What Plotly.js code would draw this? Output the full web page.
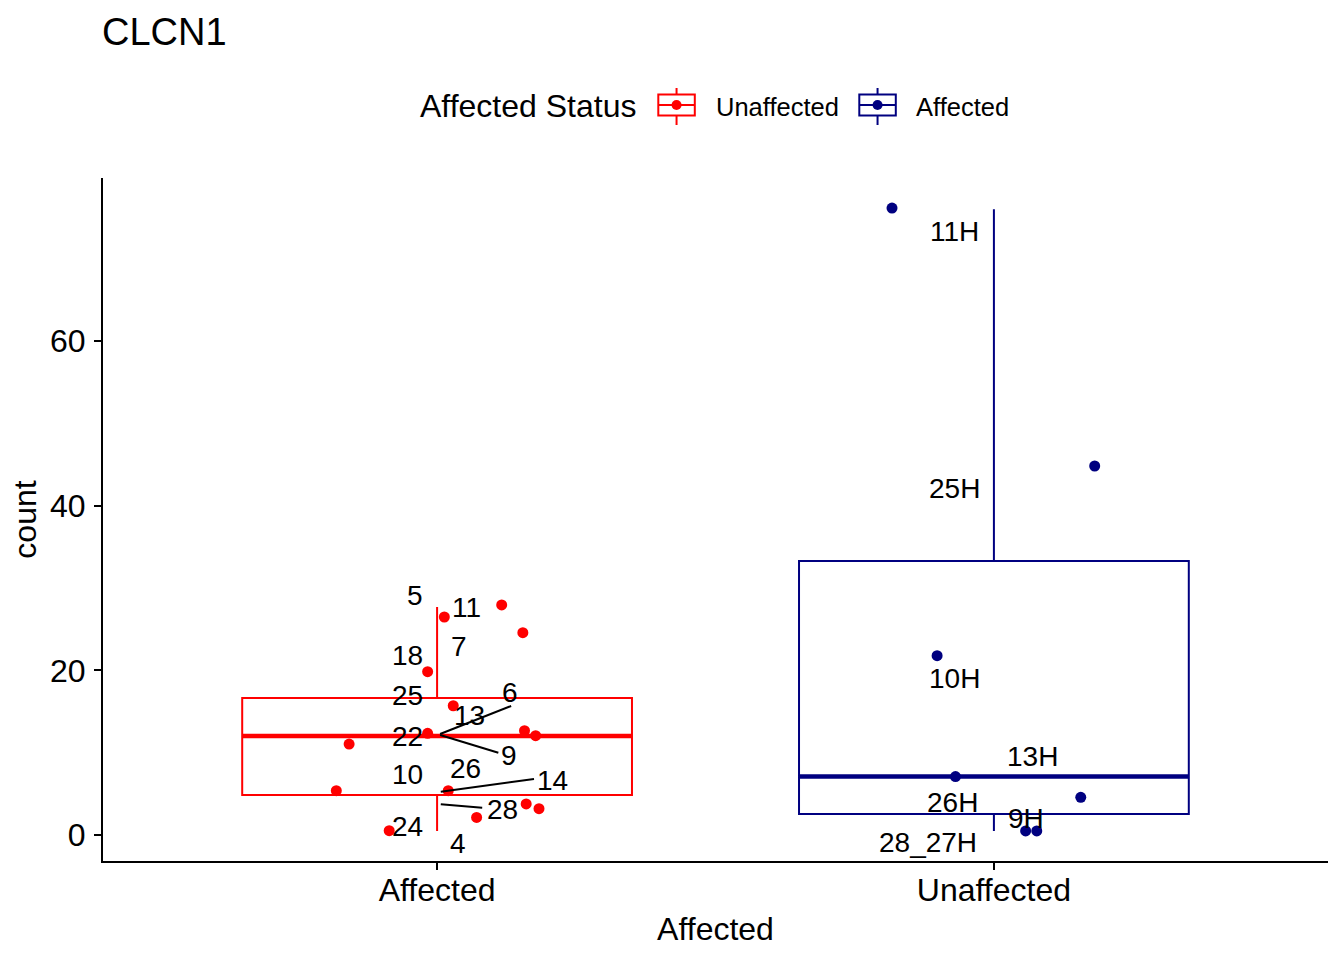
<!DOCTYPE html>
<html><head><meta charset="utf-8">
<script src="https://cdn.plot.ly/plotly-3.0.1.min.js"></script>
<style>html,body{margin:0;padding:0;background:#fff}</style>
</head><body><div id="chart" style="width:1344px;height:960px"></div>
<script>
// ---------- data ----------
const categories = ['Affected', 'Unaffected'];
const legendNames = ['Unaffected', 'Affected'];
const seriesColors = ['#FF0000', '#000080'];

// box statistics per category
const boxQ1 = [4.86, 2.55];
const boxMedian = [12.02, 7.10];
const boxQ3 = [16.64, 33.28];
const boxLower = [0.49, 0.49];
const boxUpper = [27.7, 76.0];

// jittered points: horizontal jitter offset and count
const affectedJitter = [0.013, 0.116, 0.154, -0.017, 0.029, -0.017, 0.157, 0.177, -0.158, -0.181, 0.020, 0.160, 0.183, 0.071, -0.086];
const affectedCounts = [26.48, 27.94, 24.57, 19.84, 15.70, 12.35, 12.67, 12.06, 11.05, 5.38, 5.38, 3.77, 3.20, 2.14, 0.52];
const unaffectedJitter = [-0.183, 0.181, -0.102, -0.069, 0.156, 0.057, 0.077];
const unaffectedCounts = [76.15, 44.82, 21.78, 7.10, 4.58, 0.49, 0.49];

// sample labels
const affectedLabels = ['5', '11', '7', '18', '25', '6', '13', '22', '9', '10', '26', '14', '28', '24', '4'];
const unaffectedLabels = ['11H', '25H', '10H', '13H', '26H', '9H', '28_27H'];

// ---------- label placement (repelled positions) ----------
const affectedLabelPos = [
  [-0.040, 29.15], [0.053, 27.66], [0.040, 22.87], [-0.054, 21.86], [-0.054, 16.94],
  [0.131, 17.31], [0.058, 14.51], [-0.054, 11.96], [0.130, 9.66], [-0.053, 7.29],
  [0.051, 8.10], [0.208, 6.68], [0.118, 3.10], [-0.054, 1.03], [0.038, -1.09]
];
const unaffectedLabelPos = [
  [-0.070, 73.30], [-0.071, 42.09], [-0.070, 19.01], [0.070, 9.51],
  [-0.074, 3.95], [0.058, 2.03], [-0.119, -0.85]
];
// leader segments [x0,y0,x1,y1] in data units
const leaderSegments = [
  [0.0054, 12.27, 0.133, 15.67],
  [0.0054, 12.15, 0.110, 10.00],
  [0.0066, 5.26, 0.174, 6.80],
  [0.0066, 3.73, 0.081, 3.32]
];

// ---------- build ----------
const FONT = 'Liberation Sans, Arial, Helvetica, sans-serif';
const traces = [];
categories.forEach((c, i) => {
  traces.push({
    type: 'box', x: [i], q1: [boxQ1[i]], median: [boxMedian[i]], q3: [boxQ3[i]],
    lowerfence: [boxLower[i]], upperfence: [boxUpper[i]],
    width: 0.7, whiskerwidth: 0, boxpoints: false,
    line: {color: seriesColors[i], width: 2}, fillcolor: 'rgba(0,0,0,0)',
    name: legendNames[i], hoverinfo: 'skip', showlegend: false
  });
});
const groups = [
  {jit: affectedJitter, y: affectedCounts},
  {jit: unaffectedJitter, y: unaffectedCounts}
];
groups.forEach((g, i) => {
  traces.push({
    type: 'scatter', mode: 'markers',
    x: g.jit.map(d => i + d), y: g.y,
    marker: {color: seriesColors[i], size: 11},
    hoverinfo: 'skip', showlegend: false, cliponaxis: false
  });
});

const shapes = [];
// thicker median lines
categories.forEach((c, i) => {
  shapes.push({type: 'line', xref: 'x', yref: 'y', x0: i - 0.35, x1: i + 0.35,
    y0: boxMedian[i], y1: boxMedian[i], line: {color: seriesColors[i], width: 4.5}, layer: 'below'});
});
leaderSegments.forEach(s => {
  shapes.push({type: 'line', xref: 'x', yref: 'y', x0: s[0], y0: s[1], x1: s[2], y1: s[3],
    line: {color: 'black', width: 2}});
});

const annotations = [];
affectedLabels.forEach((t, k) => {
  annotations.push({xref: 'x', yref: 'y', x: 0 + affectedLabelPos[k][0], y: affectedLabelPos[k][1],
    text: t, showarrow: false, xanchor: 'center', yanchor: 'middle', font: {size: 28, color: 'black', family: FONT}});
});
unaffectedLabels.forEach((t, k) => {
  annotations.push({xref: 'x', yref: 'y', x: 1 + unaffectedLabelPos[k][0], y: unaffectedLabelPos[k][1],
    text: t, showarrow: false, xanchor: 'center', yanchor: 'middle', font: {size: 28, color: 'black', family: FONT}});
});

// ---------- custom legend (pixel geometry -> paper coords) ----------
const PL = 103, PR = 1328, PT = 178, PB = 861;
const PX = p => (p - PL) / (PR - PL);
const PY = p => (PB - p) / (PB - PT);
annotations.push({xref: 'paper', yref: 'paper', x: PX(418), y: PY(106.5), xanchor: 'left', yanchor: 'middle',
  text: 'Affected Status', showarrow: false, font: {size: 32, color: 'black', family: FONT}});
const legendIconLeft = [658.3, 859.3];
const legendTextLeft = [714, 914.5];
legendNames.forEach((n, i) => {
  const L = legendIconLeft[i], R = L + 36.5, cx = (L + R) / 2, col = seriesColors[i];
  shapes.push({type: 'rect', xref: 'paper', yref: 'paper', x0: PX(L), x1: PX(R), y0: PY(115.5), y1: PY(94.5),
    line: {color: col, width: 2}, fillcolor: 'rgba(0,0,0,0)'});
  shapes.push({type: 'line', xref: 'paper', yref: 'paper', x0: PX(cx), x1: PX(cx), y0: PY(88), y1: PY(94.5), line: {color: col, width: 2}});
  shapes.push({type: 'line', xref: 'paper', yref: 'paper', x0: PX(cx), x1: PX(cx), y0: PY(115.5), y1: PY(125), line: {color: col, width: 2}});
  shapes.push({type: 'line', xref: 'paper', yref: 'paper', x0: PX(L), x1: PX(R), y0: PY(105), y1: PY(105), line: {color: col, width: 2}});
  shapes.push({type: 'circle', xref: 'paper', yref: 'paper', x0: PX(cx - 5), x1: PX(cx + 5), y0: PY(110), y1: PY(100),
    line: {color: col, width: 0}, fillcolor: col});
  annotations.push({xref: 'paper', yref: 'paper', x: PX(legendTextLeft[i]), y: PY(107), xanchor: 'left', yanchor: 'middle',
    text: n, showarrow: false, font: {size: 25.5, color: 'black', family: FONT}});
});

const axisCommon = {
  showline: true, linecolor: 'black', linewidth: 2, ticks: 'outside', ticklen: 7, tickwidth: 2,
  tickcolor: 'black', showgrid: false, zeroline: false, automargin: false,
  tickfont: {size: 32, color: 'black', family: FONT}
};
const layout = {
  width: 1344, height: 960,
  margin: {l: PL, r: 1344 - PR, t: PT, b: 960 - PB},
  paper_bgcolor: 'white', plot_bgcolor: 'white',
  font: {family: FONT, color: 'black'},
  title: {text: 'CLCN1', font: {size: 38, color: 'black', family: FONT},
    xref: 'container', x: 102 / 1344, xanchor: 'left', yref: 'container', y: 1 - 32 / 960, yanchor: 'middle'},
  xaxis: Object.assign({}, axisCommon, {range: [-0.6, 1.6], tickmode: 'array', tickvals: [0, 1], ticktext: categories,
    ticklabelstandoff: -7,
    title: {text: 'Affected', font: {size: 32, color: 'black', family: FONT}, standoff: 10}}),
  yaxis: Object.assign({}, axisCommon, {range: [-3.158, 79.8], tickmode: 'array', tickvals: [0, 20, 40, 60],
    ticklabelstandoff: 2,
    title: {text: 'count', font: {size: 32, color: 'black', family: FONT}, standoff: 4}}),
  showlegend: false,
  shapes: shapes, annotations: annotations
};
Plotly.newPlot('chart', traces, layout, {staticPlot: true, displayModeBar: false});
</script></body></html>
